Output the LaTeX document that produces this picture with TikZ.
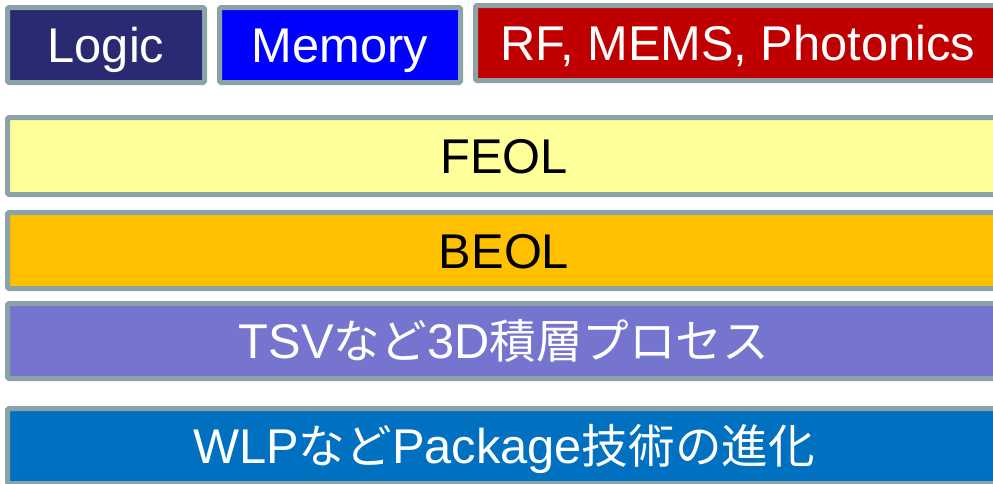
\documentclass[tikz,border=0pt]{standalone}
\usepackage{fontspec}
\setmainfont{Liberation Sans}
\newfontfamily\jpfont[Scale=0.955]{Noto Sans CJK JP}
\definecolor{edgegray}{HTML}{8BA3A6}
\definecolor{logicblue}{HTML}{2A2A72}
\definecolor{memblue}{HTML}{0000FF}
\definecolor{rfred}{HTML}{C00000}
\definecolor{feolyellow}{HTML}{FFFF99}
\definecolor{beolorange}{HTML}{FFC000}
\definecolor{tsvpurple}{HTML}{7575D0}
\definecolor{wlpblue}{HTML}{0070C0}
\tikzset{
  layerbox/.style={draw=edgegray, line width=5pt, rounded corners=1.5pt, inner sep=0pt,
    text height=35pt, text depth=0pt, font=\fontsize{48.8}{52}\selectfont},
}
\begin{document}
\begin{tikzpicture}[x=1pt,y=1pt]
\useasboundingbox (0,0) rectangle (993,-483);
\clip (0,0) rectangle (993,-483);
\node[layerbox, fill=logicblue, text=white, minimum width=197pt, minimum height=75pt] (logic) at (106,-45) {Logic};
\node[layerbox, fill=memblue, text=white, minimum width=241pt, minimum height=75pt] (memory) at (340,-45) {Memory};
\node[layerbox, fill=rfred, text=white, minimum width=525pt, minimum height=75pt] (rf) at (738,-43) {RF, MEMS, Photonics};
\node[layerbox, fill=feolyellow, text=black, minimum width=993pt, minimum height=77pt] (feol) at (504,-156) {FEOL};
\node[layerbox, fill=beolorange, text=black, minimum width=993pt, minimum height=76pt] (beol) at (504,-250.5) {BEOL};
\node[layerbox, fill=tsvpurple, text=white, minimum width=993pt, minimum height=75pt] (tsv) at (504,-341) {TSV{\jpfont など}3D{\jpfont 積層プロセス}};
\node[layerbox, fill=wlpblue, text=white, minimum width=993pt, minimum height=75pt] (wlp) at (504,-446) {WLP{\jpfont など}Package{\jpfont 技術の進化}};
\end{tikzpicture}
\end{document}
